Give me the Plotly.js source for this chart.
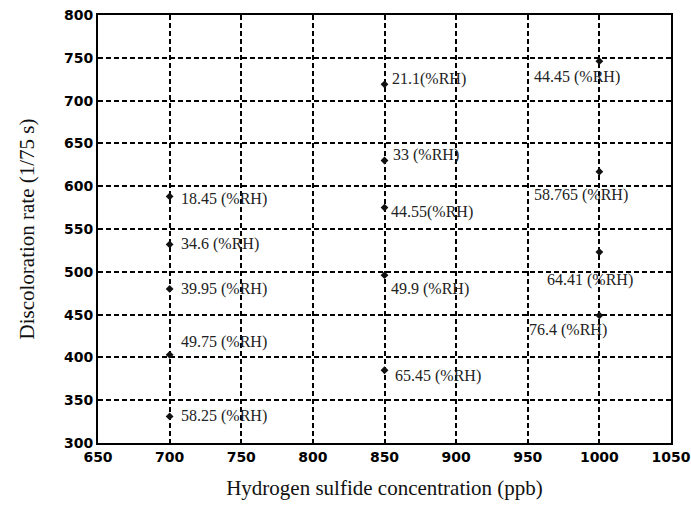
<!DOCTYPE html>
<html>
<head>
<meta charset="utf-8">
<script src="https://cdn.plot.ly/plotly-3.0.1.min.js"></script>
<style>html,body{margin:0;padding:0;background:#fff;}#chart{width:691px;height:506px;}</style>
</head>
<body>
<div id="chart"></div>
<script>
// Data
const concentration = [700, 700, 700, 700, 700, 850, 850, 850, 850, 850, 1000, 1000, 1000, 1000];
const discolorationRate = [588, 532, 480, 403, 331, 719, 630, 575, 496, 385, 746, 617, 523, 449];
const humidityLabels = ["18.45 (%RH)", "34.6 (%RH)", "39.95 (%RH)", "49.75 (%RH)", "58.25 (%RH)",
  "21.1(%RH)", "33 (%RH)", "44.55(%RH)", "49.9 (%RH)", "65.45 (%RH)",
  "44.45 (%RH)", "58.765 (%RH)", "64.41 (%RH)", "76.4 (%RH)"];
const xTicks = [650, 700, 750, 800, 850, 900, 950, 1000, 1050];
const yTicks = [300, 350, 400, 450, 500, 550, 600, 650, 700, 750, 800];

// label placement offsets (pixels) relative to each marker
const labelShiftX = [9, 9, 9, 9, 9, 5, 6, 4, 4, 8, -67, -67, -54, -72];
const labelShiftY = [-3, 0, 0, 13, 0, 5, 6, -4, -14, -6, -16, -23, -28, -15];

const annotations = humidityLabels.map((t, i) => ({
  x: concentration[i], y: discolorationRate[i], xref: 'x', yref: 'y',
  text: t, showarrow: false, xanchor: 'left', yanchor: 'middle',
  xshift: labelShiftX[i], yshift: labelShiftY[i],
  font: {family: 'Liberation Serif, Times New Roman, serif', size: 16, color: '#222'}
}));

const tickFont = {family: 'DejaVu Sans, sans-serif', size: 14, color: '#000', weight: 700};
const titleFont = {family: 'Liberation Serif, Times New Roman, serif', size: 21, color: '#111'};

const trace = {
  x: concentration, y: discolorationRate, mode: 'markers', type: 'scatter',
  marker: {symbol: 'diamond', size: 6, color: '#111'},
  hoverinfo: 'x+y'
};

const layout = {
  width: 691, height: 506,
  margin: {l: 98, r: 20, t: 15, b: 63},
  paper_bgcolor: '#fff', plot_bgcolor: '#fff',
  showlegend: false,
  xaxis: {
    range: [650, 1050], tickvals: xTicks, ticktext: xTicks.map(String),
    showgrid: true, gridcolor: '#000', gridwidth: 2, griddash: '5px,3px',
    showline: true, linecolor: '#000', linewidth: 2, mirror: true,
    ticks: '', zeroline: false, tickfont: tickFont, ticklabeloverflow: 'allow',
    title: {text: 'Hydrogen sulfide concentration (ppb)', font: titleFont, standoff: 17}
  },
  yaxis: {
    range: [300, 800], tickvals: yTicks, ticktext: yTicks.map(String),
    showgrid: true, gridcolor: '#000', gridwidth: 2, griddash: '5px,3px',
    showline: true, linecolor: '#000', linewidth: 2, mirror: true,
    ticks: '', zeroline: false, tickfont: tickFont, ticklabeloverflow: 'allow',
    title: {text: 'Discoloration rate (1/75 s)', font: titleFont, standoff: 24}
  },
  annotations: annotations
};

Plotly.newPlot('chart', [trace], layout, {displayModeBar: false, staticPlot: true});
</script>
</body>
</html>
